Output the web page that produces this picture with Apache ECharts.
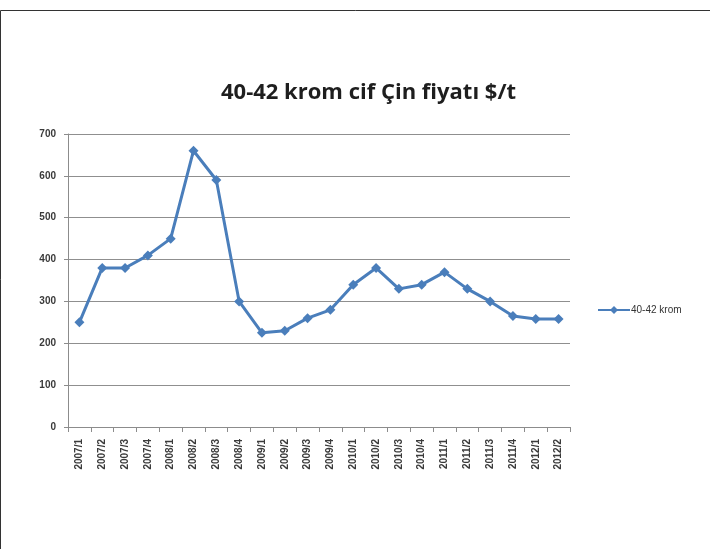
<!DOCTYPE html>
<html>
<head>
<meta charset="utf-8">
<script src="https://cdn.jsdelivr.net/npm/echarts@6/dist/echarts.min.js"></script>
<style>
  html, body { margin: 0; padding: 0; background: #fff; }
  #main { width: 710px; height: 549px; }
</style>
</head>
<body>
<div id="main"></div>
<script>
// donem etiketleri (yil/ceyrek)
var donemler = ['2007/1', '2007/2', '2007/3', '2007/4', '2008/1', '2008/2', '2008/3', '2008/4',
    '2009/1', '2009/2', '2009/3', '2009/4', '2010/1', '2010/2', '2010/3', '2010/4',
    '2011/1', '2011/2', '2011/3', '2011/4', '2012/1', '2012/2'];
// 40-42 krom fiyatlari $/t
var fiyatlar = [250, 380, 380, 410, 450, 660, 590, 300,
    225, 230, 260, 280, 340, 380, 330, 340,
    370, 330, 300, 265, 258, 258];
var seriAdi = '40-42 krom';
var baslik = '40-42 krom cif Çin fiyatı $/t';

var myChart = echarts.init(document.getElementById('main'));

var option = {
    backgroundColor: '#fff',
    animation: false,
    title: {
        text: baslik,
        left: 216,
        top: 77,
        textStyle: {
            fontFamily: 'Open Sans',
            fontWeight: 'bold',
            fontSize: 22,
            color: '#1e1e1e'
        }
    },
    legend: {
        data: [seriAdi],
        left: 592,
        top: 300,
        itemWidth: 32,
        itemHeight: 10,
        itemGap: 2,
        textStyle: {
            fontFamily: 'Liberation Sans',
            fontSize: 10,
            color: '#333',
            padding: [0, 0, 0, -4]
        }
    },
    grid: {
        left: 68,
        right: 140,
        top: 134,
        bottom: 122
    },
    xAxis: {
        type: 'category',
        data: donemler,
        boundaryGap: true,
        axisLine: { lineStyle: { color: '#8c8c8c', width: 1 } },
        axisTick: { show: true, length: 5, lineStyle: { color: '#8c8c8c' } },
        axisLabel: {
            rotate: 90,
            interval: 0,
            margin: 12,
            fontFamily: 'Liberation Sans',
            fontWeight: 'bold',
            fontSize: 10,
            color: '#3a3a3a'
        }
    },
    yAxis: {
        type: 'value',
        min: 0,
        max: 700,
        interval: 100,
        axisLine: { show: true, lineStyle: { color: '#8c8c8c', width: 1 } },
        axisTick: { show: true, length: 4, lineStyle: { color: '#8c8c8c' } },
        axisLabel: {
            margin: 12,
            fontFamily: 'Liberation Sans',
            fontWeight: 'bold',
            fontSize: 10,
            color: '#3a3a3a'
        },
        splitLine: { lineStyle: { color: '#8f8f8f', width: 1 } }
    },
    series: [{
        name: seriAdi,
        type: 'line',
        data: fiyatlar,
        symbol: 'diamond',
        symbolSize: 10,
        lineStyle: { color: '#4a7ebb', width: 3 },
        itemStyle: { color: '#4a7ebb' }
    }],
    graphic: [
        { type: 'line', shape: { x1: 0.5, y1: 10.5, x2: 710, y2: 10.5 }, style: { stroke: '#333', lineWidth: 1 } },
        { type: 'line', shape: { x1: 0.5, y1: 10.5, x2: 0.5, y2: 549 }, style: { stroke: '#333', lineWidth: 1 } }
    ]
};
myChart.setOption(option);
</script>
</body>
</html>
